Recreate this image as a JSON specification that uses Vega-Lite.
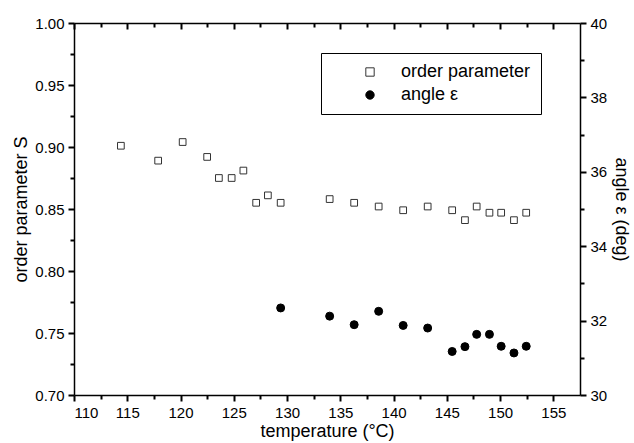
{
  "$schema": "https://vega.github.io/schema/vega-lite/v6.json",
  "autosize": "none",
  "padding": {"left": 74, "top": 23, "right": 54, "bottom": 49},
  "width": 506,
  "height": 372,
  "background": "white",
  "datasets": {
    "S": [
      {"temperature": 114.4, "S": 0.901},
      {"temperature": 117.9, "S": 0.889},
      {"temperature": 120.2, "S": 0.904},
      {"temperature": 122.5, "S": 0.892},
      {"temperature": 123.6, "S": 0.875},
      {"temperature": 124.8, "S": 0.875},
      {"temperature": 125.9, "S": 0.881},
      {"temperature": 127.1, "S": 0.855},
      {"temperature": 128.2, "S": 0.861},
      {"temperature": 129.4, "S": 0.855},
      {"temperature": 134.0, "S": 0.858},
      {"temperature": 136.3, "S": 0.855},
      {"temperature": 138.6, "S": 0.852},
      {"temperature": 140.9, "S": 0.849},
      {"temperature": 143.2, "S": 0.852},
      {"temperature": 145.5, "S": 0.849},
      {"temperature": 146.7, "S": 0.841},
      {"temperature": 147.8, "S": 0.852},
      {"temperature": 149.0, "S": 0.847},
      {"temperature": 150.1, "S": 0.847},
      {"temperature": 151.3, "S": 0.841},
      {"temperature": 152.45, "S": 0.847}
    ],
    "eps": [
      {"temperature": 129.4, "angle": 32.34},
      {"temperature": 134.0, "angle": 32.12},
      {"temperature": 136.3, "angle": 31.89},
      {"temperature": 138.6, "angle": 32.25},
      {"temperature": 140.9, "angle": 31.87},
      {"temperature": 143.2, "angle": 31.80},
      {"temperature": 145.5, "angle": 31.17},
      {"temperature": 146.7, "angle": 31.30},
      {"temperature": 147.8, "angle": 31.63},
      {"temperature": 149.0, "angle": 31.63},
      {"temperature": 150.1, "angle": 31.31},
      {"temperature": 151.3, "angle": 31.13},
      {"temperature": 152.45, "angle": 31.31}
    ]
  },
  "layer": [
    {
      "data": {"name": "S"},
      "mark": {"type": "point", "filled": true, "size": 45, "strokeWidth": 1, "opacity": 1},
      "encoding": {
        "x": {"field": "temperature", "type": "quantitative",
          "scale": {"domain": [110, 157.5], "nice": false, "zero": false},
          "axis": {"orient": "bottom",
            "values": [110,112.5,115,117.5,120,122.5,125,127.5,130,132.5,135,137.5,140,142.5,145,147.5,150,152.5,155],
            "labelExpr": "datum.value % 5 === 0 ? datum.label : ''",
            "tickSize": {"condition": {"test": "datum.value % 5 === 0", "value": 6}, "value": 4},
            "tickColor": "black",
            "labelPadding": 4, "title": "temperature (°C)", "titlePadding": 2}},
        "y": {"field": "S", "type": "quantitative",
          "scale": {"domain": [0.7, 1.0], "nice": false, "zero": false},
          "axis": {"orient": "left",
            "values": [0.7,0.725,0.75,0.775,0.8,0.825,0.85,0.875,0.9,0.925,0.95,0.975,1.0],
            "labelExpr": "abs(datum.value*20 - round(datum.value*20)) < 0.001 ? format(datum.value, '.2f') : ''",
            "tickSize": {"condition": {"test": "abs(datum.value*20 - round(datum.value*20)) < 0.001", "value": 6}, "value": 4},
            "tickColor": "black",
            "labelPadding": 4, "title": "order parameter S", "titlePadding": 4}},
        "shape": {"datum": "order parameter", "scale": {"domain": ["order parameter", "angle ε"], "range": ["square", "circle"]}},
        "fill": {"datum": "order parameter", "scale": {"domain": ["order parameter", "angle ε"], "range": ["white", "black"]}},
        "stroke": {"datum": "order parameter", "scale": {"domain": ["order parameter", "angle ε"], "range": ["#333333", "black"]}}
      }
    },
    {
      "data": {"name": "eps"},
      "mark": {"type": "point", "filled": true, "size": 64, "strokeWidth": 1, "opacity": 1},
      "encoding": {
        "x": {"field": "temperature", "type": "quantitative",
          "scale": {"domain": [110, 157.5], "nice": false, "zero": false},
          "axis": {"orient": "top",
            "values": [110,112.5,115,117.5,120,122.5,125,127.5,130,132.5,135,137.5,140,142.5,145,147.5,150,152.5,155],
            "labels": false,
            "tickSize": {"condition": {"test": "datum.value % 5 === 0", "value": -6}, "value": -4},
            "tickColor": "black",
            "title": null}},
        "y": {"field": "angle", "type": "quantitative",
          "scale": {"domain": [30, 40], "nice": false, "zero": false},
          "axis": {"orient": "right",
            "values": [30,31,32,33,34,35,36,37,38,39,40],
            "labelExpr": "datum.value % 2 === 0 ? datum.label : ''",
            "tickSize": {"condition": {"test": "datum.value % 2 === 0", "value": 6}, "value": 4},
            "tickColor": "black",
            "labelPadding": 4, "title": "angle ε (deg)", "titlePadding": 5}},
        "shape": {"datum": "angle ε"},
        "fill": {"datum": "angle ε"},
        "stroke": {"datum": "angle ε"}
      }
    }
  ],
  "resolve": {"scale": {"x": "independent", "y": "independent"}},
  "config": {
    "view": {"stroke": null},
    "axis": {
      "grid": false,
      "domainColor": "black",
      "domainWidth": 1.5,
      "tickWidth": 2,
      "labelFontSize": 15,
      "titleFontSize": 18,
      "titleFontWeight": "normal"
    },
    "legend": {
      "orient": "none",
      "legendX": 247,
      "legendY": 30,
      "title": null,
      "strokeColor": "black",
      "padding": 10,
      "labelFontSize": 18,
      "symbolSize": 70,
      "symbolStrokeWidth": 1,
      "symbolOffset": 30,
      "labelOffset": 22,
      "rowPadding": 5,
      "labelLimit": 300
    }
  }
}
